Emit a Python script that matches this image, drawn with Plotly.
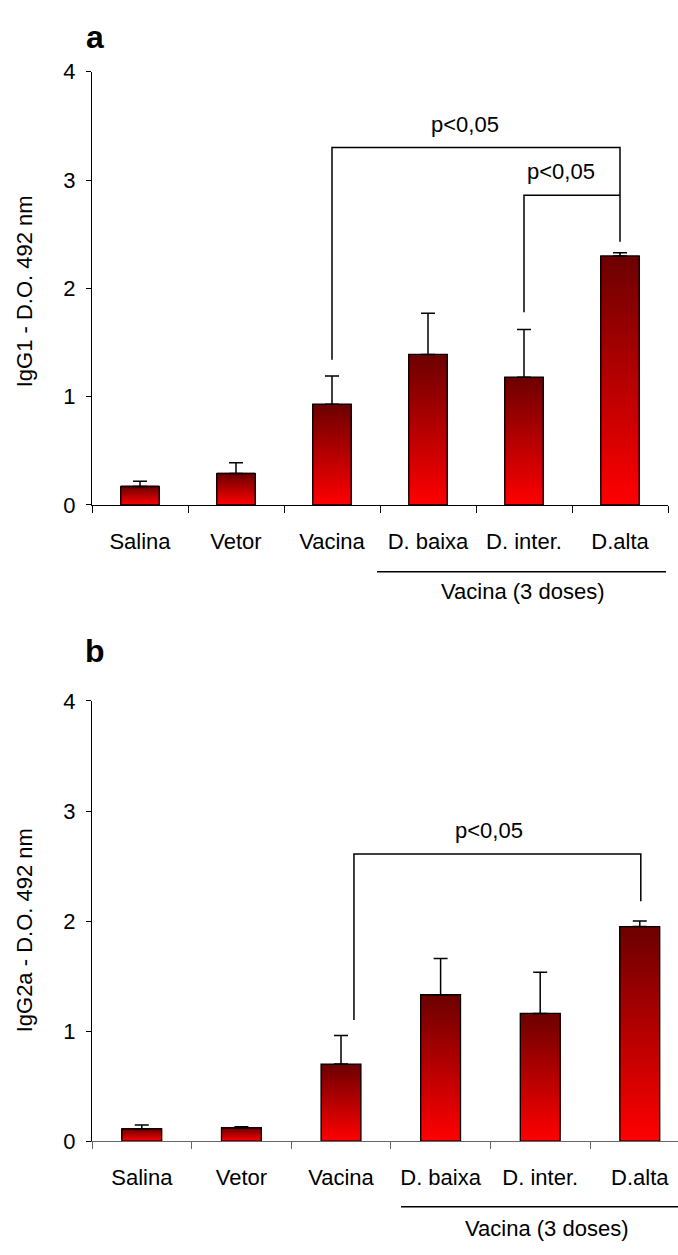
import plotly.graph_objects as go
import numpy as np

# ---------------- data ----------------
categories = ["Salina", "Vetor", "Vacina", "D. baixa", "D. inter.", "D.alta"]
igg1_mean = [0.17, 0.29, 0.93, 1.39, 1.18, 2.30]
igg1_err = [0.05, 0.10, 0.26, 0.38, 0.44, 0.03]
igg2a_mean = [0.11, 0.12, 0.70, 1.33, 1.16, 1.95]
igg2a_err = [0.035, 0.01, 0.26, 0.33, 0.375, 0.05]
y_ticks = [0, 1, 2, 3, 4]
group_label = "Vacina (3 doses)"
sig_label = "p<0,05"
y_title_1 = "IgG1 - D.O. 492 nm"
y_title_2 = "IgG2a - D.O. 492 nm"

# ---------------- layout constants ----------------
W, H = 678, 1255
FONT = "Liberation Sans, Arial, sans-serif"
FS = 22
N_SEG = 60
BRIGHT = np.array([255, 0, 0])
DARK = np.array([108, 0, 0])
BAR_W = 0.4

xpos = list(range(len(categories)))
bounds = [i - 0.5 for i in range(len(categories) + 1)]


def px(x):
    return x / W


def py(y):
    return 1 - y / H


fig = go.Figure()


def add_panel(vals, errs, xa, ya):
    # overlapping segments (each runs from its level to the bar top) -> seamless gradient
    for k in range(N_SEG):
        f = (k + 0.5) / N_SEG
        c = BRIGHT + (DARK - BRIGHT) * f
        col = "rgb(%d,%d,%d)" % tuple(int(round(v)) for v in c)
        fig.add_trace(go.Bar(
            x=xpos, y=[v * (N_SEG - k) / N_SEG for v in vals],
            base=[v * k / N_SEG for v in vals],
            width=BAR_W, marker=dict(color=col, line=dict(width=0)),
            xaxis=xa, yaxis=ya, showlegend=False, hoverinfo="skip"))
    fig.add_trace(go.Bar(
        x=xpos, y=vals, width=BAR_W,
        marker=dict(color="rgba(0,0,0,0)", line=dict(color="black", width=1.3)),
        error_y=dict(type="data", symmetric=False, array=errs,
                     arrayminus=[0] * len(errs), color="black", thickness=1.5, width=7),
        xaxis=xa, yaxis=ya, showlegend=False, hoverinfo="skip"))


add_panel(igg1_mean, igg1_err, "x", "y")
add_panel(igg2a_mean, igg2a_err, "x2", "y2")

# significance brackets
brackets = [
    ("x", "y", [2, 2, 5, 5], [1.34, 3.30, 3.30, 2.43]),
    ("x", "y", [4, 4, 5], [1.78, 2.86, 2.86]),
    ("x2", "y2", [2.13, 2.13, 5.01, 5.01], [1.10, 2.61, 2.61, 2.18]),
]
for xa, ya, bx, by in brackets:
    fig.add_trace(go.Scatter(x=bx, y=by, mode="lines", line=dict(color="black", width=1.5),
                             xaxis=xa, yaxis=ya, showlegend=False, hoverinfo="skip"))


def xaxis_cfg(domain, rng, linecolor):
    return dict(
        domain=domain, range=rng, tickmode="array", tickvals=xpos, ticktext=categories,
        ticks="outside", ticklen=7, tickcolor="rgba(0,0,0,0)",
        minor=dict(tickmode="array", tickvals=bounds, ticks="outside", ticklen=7,
                   tickcolor=linecolor, tickwidth=1, showgrid=False),
        showline=True, linecolor=linecolor, linewidth=1, showgrid=False, zeroline=False,
        tickfont=dict(family=FONT, size=FS, color="black"), ticklabelstandoff=10,
        fixedrange=True)


def yaxis_cfg(domain, anchor):
    return dict(
        domain=domain, range=[0, 4], tickmode="array", tickvals=y_ticks,
        ticks="outside", ticklen=5, tickcolor="black", showline=True, linecolor="black",
        linewidth=1, showgrid=False, zeroline=False, anchor=anchor,
        tickfont=dict(family=FONT, size=FS, color="black"), ticklabelstandoff=6,
        fixedrange=True)


x1_dom = [px(92), px(668)]
x2_dom = [px(92), 1.0]
cat2 = 99.6
x2_range = [-0.5, -0.5 + (W - 92) / cat2]


def ann(text, x, y, xref="paper", yref="paper", size=FS, angle=0):
    return dict(text=text, x=x, y=y, xref=xref, yref=yref, showarrow=False,
                xanchor="center", yanchor="middle", textangle=angle,
                font=dict(family=FONT, size=size, color="black"))


annotations = [
    ann("<b>a</b>", px(95), py(25), size=32),
    ann("<b>b</b>", px(95), py(652), size=32),
    ann(y_title_1, px(24), py(285), angle=-90),
    ann(y_title_2, px(24), py(937), angle=-90),
    ann(sig_label, 3.39, 3.51, "x", "y"),
    ann(sig_label, 4.39, 3.08, "x", "y"),
    ann(sig_label, 3.49, 2.82, "x2", "y2"),
    ann(group_label, px(522), py(591)),
    ann(group_label, px(546), py(1241)),
]

shapes = [
    dict(type="line", xref="paper", yref="paper", x0=px(377), x1=px(666),
         y0=py(571), y1=py(571), line=dict(color="black", width=1.5)),
    dict(type="line", xref="paper", yref="paper", x0=px(401), x1=1.0,
         y0=py(1219), y1=py(1219), line=dict(color="black", width=1.5)),
]

fig.update_layout(
    width=W, height=H, margin=dict(l=0, r=0, t=0, b=0),
    paper_bgcolor="white", plot_bgcolor="white", barmode="overlay",
    xaxis=xaxis_cfg(x1_dom, [-0.5, 5.5], "black") | dict(anchor="y"),
    yaxis=yaxis_cfg([py(503), py(61)], "x"),
    xaxis2=xaxis_cfg(x2_dom, x2_range, "#666666") | dict(anchor="y2"),
    yaxis2=yaxis_cfg([py(1152), py(703)], "x2"),
    annotations=annotations, shapes=shapes, showlegend=False,
    font=dict(family=FONT, size=FS, color="black"),
)

fig.write_html("out.html")
